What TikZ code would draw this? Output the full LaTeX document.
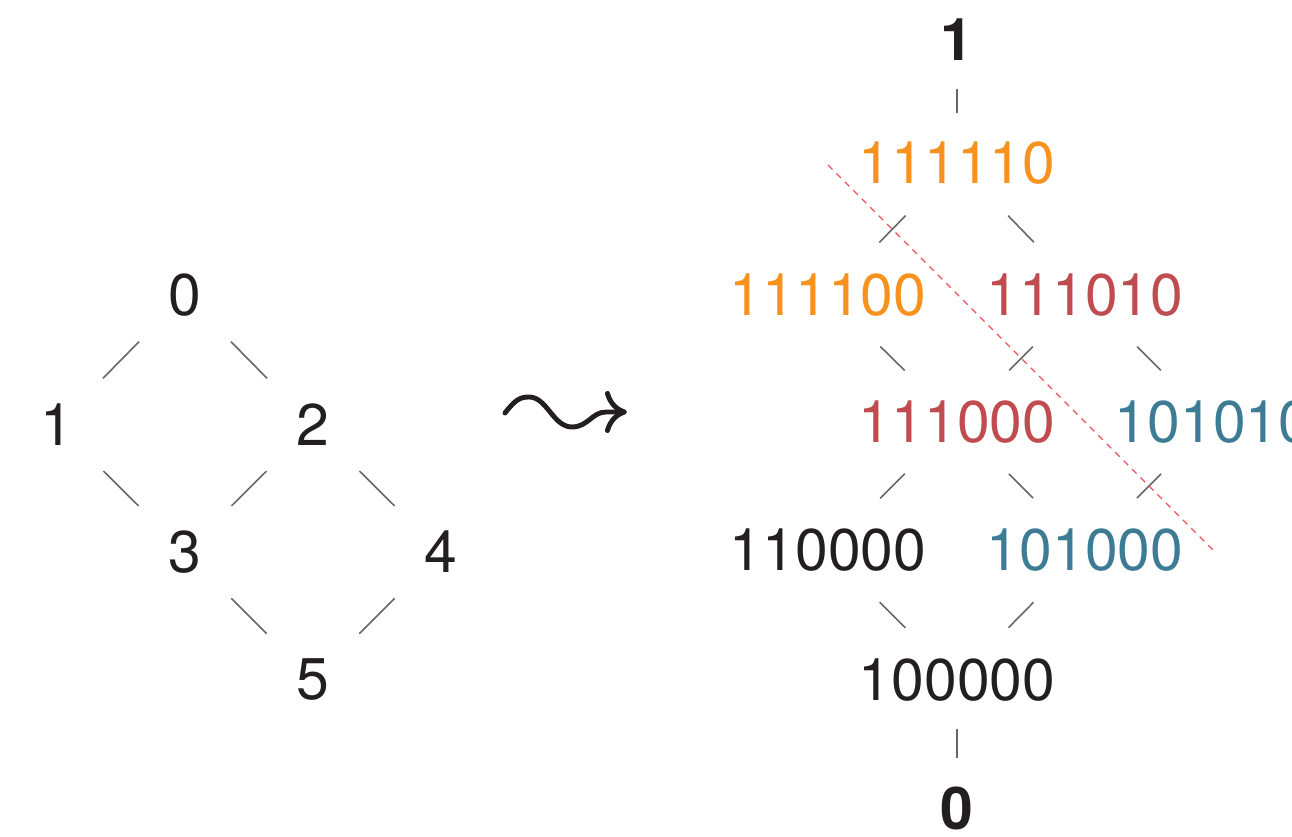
\documentclass[tikz,border=0pt]{standalone}
\usepackage{fontspec}
\setmainfont{TeX Gyre Heros}
\usetikzlibrary{arrows.meta}
\definecolor{bitorange}{RGB}{247,146,30}
\definecolor{bitred}{RGB}{192,76,80}
\definecolor{bitblue}{RGB}{62,124,150}
\definecolor{inkblack}{RGB}{35,31,32}
\definecolor{cutred}{RGB}{240,80,92}

\begin{document}
\begin{tikzpicture}[
  x=0.02cm,y=-0.02cm,
  lbl/.style={inner sep=0pt,text=inkblack,font=\fontsize{33.5}{36}\selectfont},
  hasse/.style={draw=black!60,line width=0.9pt},
  lhasse/.style={hasse,shorten <=1.31cm,shorten >=1.31cm},
  rhasse/.style={hasse,shorten <=1.47cm,shorten >=1.47cm},
  vhasse/.style={hasse,shorten <=0.98cm,shorten >=1.0cm},
  cut/.style={draw=cutred,line width=0.75pt,dash pattern=on 3.6pt off 3.2pt},
  leads/.style={line width=2.8pt,line cap=round,inkblack,-{Computer Modern Rightarrow[length=4.4mm,width=8.4mm]}}
]
\useasboundingbox (0,0) rectangle (1292,837);

% the poset
\node[lbl] (p0) at (185,295) {0};
\node[lbl] (p1) at (57,425) {1};
\node[lbl] (p2) at (313,425) {2};
\node[lbl] (p3) at (185,552) {3};
\node[lbl] (p4) at (441,552) {4};
\node[lbl] (p5) at (313,680) {5};
\draw[lhasse] (p0.center) -- (p1.center);
\draw[lhasse] (p0.center) -- (p2.center);
\draw[lhasse] (p1.center) -- (p3.center);
\draw[lhasse] (p2.center) -- (p3.center);
\draw[lhasse] (p2.center) -- (p4.center);
\draw[lhasse] (p3.center) -- (p5.center);
\draw[lhasse] (p4.center) -- (p5.center);

% squiggly arrow
\coordinate (w0) at (505,413);
\coordinate (w1) at (627,412);
\draw[leads] (w0) .. controls (515,400) and (520,397) .. (529,397)
  .. controls (547,397) and (553,427) .. (572,427)
  .. controls (588,427) and (592,412) .. (606,412) -- (w1);

% the lattice of words
\node[lbl,font=\fontsize{33.5}{36}\selectfont\bfseries] (top) at (957,40) {1};
\node[lbl,text=bitorange] (b111110) at (957,163) {111110};
\node[lbl,text=bitorange] (b111100) at (828,295) {111100};
\node[lbl,text=bitred] (b111010) at (1085,295) {111010};
\node[lbl,text=bitred] (b111000) at (957,422) {111000};
\node[lbl,text=bitblue] (b101010) at (1213,422) {101010};
\node[lbl] (b110000) at (828,550) {110000};
\node[lbl,text=bitblue] (b101000) at (1085,550) {101000};
\node[lbl] (b100000) at (957,680) {100000};
\node[lbl,font=\fontsize{33.5}{36}\selectfont\bfseries] (bot) at (957,808) {0};
\draw[vhasse] (top.center) -- (b111110.center);
\draw[rhasse] (b111110.center) -- (b111100.center);
\draw[rhasse] (b111110.center) -- (b111010.center);
\draw[rhasse] (b111100.center) -- (b111000.center);
\draw[rhasse] (b111010.center) -- (b111000.center);
\draw[rhasse] (b111010.center) -- (b101010.center);
\draw[rhasse] (b111000.center) -- (b110000.center);
\draw[rhasse] (b111000.center) -- (b101000.center);
\draw[rhasse] (b101010.center) -- (b101000.center);
\draw[rhasse] (b110000.center) -- (b100000.center);
\draw[rhasse] (b101000.center) -- (b100000.center);
\draw[vhasse] (b100000.center) -- (bot.center);

% the cut
\draw[cut] (828,165) -- (1213,550);
\end{tikzpicture}
\end{document}
